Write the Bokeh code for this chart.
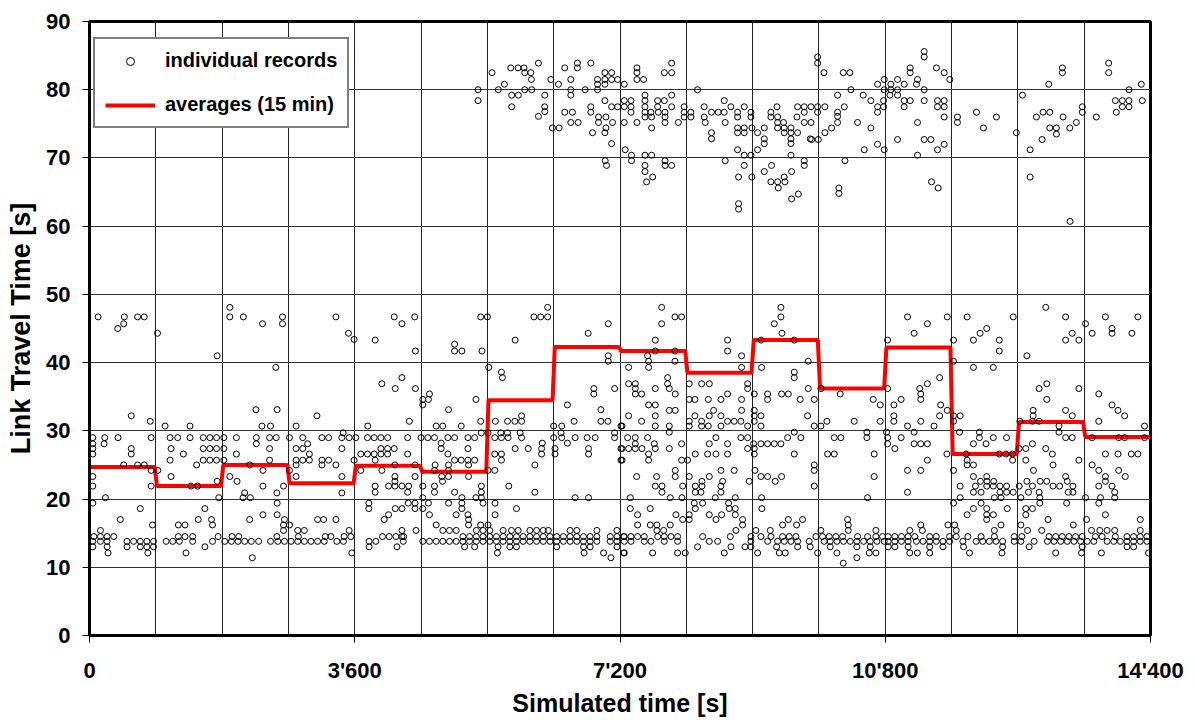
from bokeh.plotting import figure
from bokeh.models import Range1d, FixedTicker, Legend, LegendItem, ColumnDataSource
from bokeh.embed import file_html
from bokeh.resources import INLINE

FONT = "Liberation Sans"

# 15-minute averages of link travel time [s], one per interval
interval_s = 900
avg_travel_time = [24.7, 21.9, 25.0, 22.3, 24.9, 24.0, 34.5, 42.3,
                   41.7, 38.5, 43.3, 36.2, 42.2, 26.6, 31.3, 29.1]

x_ticks = [0, 3600, 7200, 10800, 14400]
x_tick_labels = ["0", "3'600", "7'200", "10'800", "14'400"]
y_ticks = [0, 10, 20, 30, 40, 50, 60, 70, 80, 90]

# individual records, grouped as (travel time [s], [simulated times [s]])
records_0_3600 = [
    (48.1, [1904]),
    (46.7, [117, 473, 653, 743, 1904, 2088, 2619, 3344]),
    (45.7, [464, 2349, 2619]),
    (45.0, [383]),
    (44.3, [923, 3515]),
    (43.4, [3591]),
    (41.0, [1733]),
    (39.3, [2529]),
    (33.1, [2259, 2547]),
    (32.2, [567, 3087]),
    (31.4, [824]),
    (30.7, [1026, 1364, 2340, 2457, 2804]),
    (29.7, [3443]),
    (29.0, [45, 207, 387, 837, 1094, 1197, 1364, 1544, 1634, 1724, 1823, 1994, 2264,
            2444, 2534, 2714, 2894, 3155, 3245, 3425, 3524]),
    (28.1, [45, 198, 2264, 2961]),
    (27.4, [45, 567, 1107, 1544, 1634, 1724, 1823, 2444, 2804, 2894, 3425]),
    (26.6, [45, 567, 1274, 1994, 2984]),
    (25.7, [1094, 1544, 1634, 1724, 1823, 2444, 2804, 2894, 2984, 3155, 3245, 3591]),
    (25.0, [464, 653, 743, 1454, 2174, 2804, 3155, 3344]),
    (24.2, [837, 927, 2354, 2714]),
    (23.3, [45, 1107, 1904, 2804, 3425]),
    (22.6, [1733, 2003]),
    (21.9, [45, 837, 1377, 1467, 2354, 2633]),
    (20.9, [2106, 2543, 3425]),
    (20.2, [216, 1755, 2084, 2183]),
    (19.4, [45, 2547]),
    (18.6, [689, 1566]),
    (17.7, [2354, 2547]),
    (17.0, [419, 1476, 1656, 2174, 2646, 3096, 3177, 3344]),
    (16.2, [855, 1206, 1296, 1670, 2633, 2714]),
    (15.4, [149, 2633, 2826, 2916, 3524]),
    (14.5, [59, 149, 239, 329, 1206, 1296, 1400, 1746, 1935, 2025, 2543, 2835, 3200,
            3276, 3456, 3546]),
    (13.8, [45, 149, 239, 509, 599, 689, 779, 869, 1040, 1130, 1220, 1400, 1670, 1836,
            1926, 2016, 2106, 2196, 2295, 2457, 2556, 2646, 2736, 2826, 2916, 3006,
            3096, 3186, 3357, 3447]),
    (13.0, [45, 239, 509, 689, 779, 869, 1566]),
    (12.1, [252, 792, 1310, 3560]),
    (11.4, [2210]),
]

records_3600_7200 = [
    (48.1, [6218]),
    (46.7, [4136, 4414, 5309, 5400, 6032, 6123, 6218]),
    (45.7, [4241, 7041]),
    (44.3, [6768]),
    (43.3, [3877, 5777]),
    (42.7, [4955]),
    (41.7, [4423, 4955, 5054, 5327]),
    (41.0, [7041]),
    (40.2, [7041]),
    (39.3, [5418]),
    (38.6, [5591]),
    (37.8, [4241, 5604]),
    (36.9, [3968]),
    (36.2, [4150, 4423, 6845, 7127]),
    (35.4, [4614, 6845]),
    (34.6, [4523, 4600, 5245]),
    (33.8, [4523, 6486]),
    (33.1, [4873, 6941]),
    (32.2, [5864]),
    (31.4, [4341, 5309, 5509, 5673, 5773, 5864, 6577, 6941, 7036]),
    (30.7, [3777, 4705, 4795, 5045, 6300, 6409, 7213]),
    (29.7, [5318, 5409, 5582, 5673, 5845, 6400, 7127]),
    (29.0, [3614, 3773, 3864, 3955, 4046, 4318, 4500, 4591, 4682, 4864, 4955, 5136,
            5227, 5500, 5591, 5682, 5864, 6300, 6409, 6591, 6754, 6863, 7127]),
    (28.2, [4773, 6145, 6486]),
    (27.4, [3955, 4046, 4136, 4773, 5136, 5777, 5954, 6136, 6318, 6773, 7213]),
    (26.6, [3682, 3773, 3864, 3955, 4046, 4318, 4864, 5500, 5591, 6136, 6318, 6773]),
    (25.7, [3877, 4955, 5045, 5136, 5227, 5591, 7213]),
    (25.0, [4145, 4418, 4691, 4873, 5145, 6045]),
    (24.2, [3682, 3968, 4682, 4873, 5409, 5500]),
    (23.3, [4145, 4418, 4782, 4873, 5145]),
    (22.6, [4145, 4791]),
    (21.9, [3877, 4059, 4145, 4241, 4332, 4523, 4682, 5318, 5691]),
    (21.0, [3877, 4318, 4682, 4955, 5318, 6045]),
    (20.2, [4523, 5054, 5245, 5318, 6591, 6773]),
    (19.4, [3791, 4327, 4418, 4600, 4873, 5054, 5341, 5504]),
    (18.6, [3791, 4150, 4241, 4418, 4523, 5054, 5795]),
    (17.7, [4059, 4614, 4977, 5136, 5504]),
    (17.0, [4000, 5145]),
    (16.2, [4705, 5145, 5309, 5409]),
    (15.4, [4241, 4432, 4795, 4886, 4977, 5250, 5341, 5432, 5614, 5727, 5818, 5977,
            6068, 6159, 6227, 6523, 6614, 6886, 7159]),
    (14.5, [3977, 4068, 4159, 4241, 4264, 5068, 5159, 5250, 5341, 5432, 5523, 5614,
            5705, 5795, 5886, 5977, 6068, 6159, 6250, 6341, 6432, 6523, 6614, 6705,
            6795, 6886, 7068, 7159, 7250]),
    (13.8, [3795, 3886, 4259, 4523, 4614, 4705, 4795, 4886, 4977, 5068, 5159, 5250,
            5341, 5432, 5523, 5614, 5705, 5795, 5886, 5977, 6068, 6159, 6250, 6341,
            6432, 6523, 6614, 6705, 6795, 6886, 7068, 7159]),
    (13.0, [3795, 4173, 5091, 5227, 5545, 5705, 5795, 6341, 6705, 6795, 7159]),
    (12.1, [5536, 6713, 6977, 7250]),
    (11.4, [7077]),
]

records_7200_10800 = [
    (48.1, [7765, 9384]),
    (46.7, [7946, 8036, 9384]),
    (45.7, [7765, 9294]),
    (44.3, [9398]),
    (43.3, [7679, 8660, 9113, 9565]),
    (41.7, [7679, 7946, 8660]),
    (41.0, [7575, 8850]),
    (40.2, [7588, 7946, 9755]),
    (39.3, [7317, 7588, 8850, 9122]),
    (38.6, [9565]),
    (37.8, [7846, 9565]),
    (36.9, [7317, 7408, 7846, 8140, 8308, 8412, 8932]),
    (36.2, [7408, 7679, 7869, 8932, 9755, 9927]),
    (35.4, [7408, 7493, 7950, 8660, 9022, 9203, 9393, 9484, 10189]),
    (34.6, [8140, 8217, 8398, 8570, 8850, 9203, 9646, 9836, 10637]),
    (33.8, [7588, 7679, 10732]),
    (33.0, [7869, 7950, 8470, 8850, 9022]),
    (32.2, [7317, 7679, 8217, 8412, 8570, 9022, 9113, 9746]),
    (31.4, [7493, 8140, 8308, 8660, 8750, 8841, 9022, 10008, 10379, 10732]),
    (30.7, [7227, 7679, 7869, 8140, 8308, 8398, 8570, 8932, 9113, 9836, 9927]),
    (29.8, [7869, 9565, 10551, 10818]),
    (29.0, [7303, 7408, 7575, 8502, 8841, 8932, 9475, 9655, 10108, 10198, 10551]),
    (28.1, [7408, 7665, 8036, 8412, 8660, 9013, 9113, 9203, 9294, 9384]),
    (27.4, [7227, 7317, 7408, 7498, 7679, 7869, 8932, 9022]),
    (26.6, [7588, 8222, 8389, 8502, 8660, 9022, 9565, 10017, 10108, 10650]),
    (25.7, [7227, 7588, 8036, 8118]),
    (25.0, [9836]),
    (24.2, [7950, 8570, 8750, 9031, 9836]),
    (23.3, [7426, 7697, 7950, 8140, 8412, 9113, 9203, 9393, 10650]),
    (22.6, [8312, 8593, 8954, 9307]),
    (21.9, [7679, 7770, 8050, 8222, 8312, 8570, 9836]),
    (21.0, [7770, 8222, 8299, 8570]),
    (20.2, [7340, 7882, 8041, 8493, 8765, 9122, 10560]),
    (19.4, [8208, 8321, 8674]),
    (18.6, [7340, 7611, 8222, 8683, 8765, 9126]),
    (17.7, [7439, 7959, 8140, 8412, 8579, 8765]),
    (17.0, [8050, 8140, 8502, 8864, 9484, 9678, 10289]),
    (16.2, [7439, 7611, 7701, 7882, 8864, 9407, 9597, 10298]),
    (15.4, [7701, 7792, 8773, 9045, 9240, 9927, 10298, 10673]),
    (14.5, [7258, 7349, 7439, 7530, 7711, 7801, 7892, 7982, 8321, 8697, 8977, 9113,
            9249, 9407, 9497, 9588, 9859, 9949, 10040, 10130, 10221, 10424, 10560,
            10673, 10763]),
    (13.8, [7258, 7349, 7530, 7620, 7801, 7982, 8412, 8525, 8977, 9203, 9339, 9430,
            9520, 9611, 9768, 9972, 10053, 10144, 10234, 10325, 10415, 10506, 10596,
            10687, 10786]),
    (13.0, [8253, 8706, 8896, 8977, 9325, 9611, 9782, 10053, 10415, 10596]),
    (12.1, [7258, 7643, 7982, 8086, 8615, 9068, 9362, 9443, 9882, 10144, 10583, 10673]),
    (11.4, [10415]),
    (10.6, [10230]),
]

records_10800_14400 = [
    (48.1, [12978]),
    (46.7, [11102, 11642, 11912, 12537, 13248, 13788, 14229]),
    (45.7, [11372, 13518]),
    (45.0, [12177, 13878]),
    (44.3, [11192, 12087, 13338, 13608, 13878, 14148]),
    (43.3, [10832, 11727, 11997, 12348, 13248, 13428]),
    (41.7, [12348]),
    (41.0, [12722]),
    (40.2, [11727]),
    (39.3, [11997, 12267]),
    (37.8, [11538]),
    (36.9, [11372, 12992]),
    (36.2, [10832, 11268, 12888, 13428]),
    (35.4, [11282, 13698]),
    (34.6, [11016, 11282, 12992]),
    (33.8, [10917, 11552, 13878]),
    (33.0, [11642, 12807, 13248, 13959]),
    (32.2, [10917, 11538, 11727, 11817, 12807, 13338, 14049]),
    (31.4, [10917, 11282, 11727, 12627, 12798, 12888, 13698]),
    (30.7, [11102, 11462, 13158, 14319]),
    (29.8, [11192, 11808, 12078, 13158]),
    (29.0, [10832, 11016, 12078, 12267, 12447, 13248, 13338, 13608, 13968, 14049, 14319]),
    (28.1, [10832, 11192, 11282, 11372, 11997, 12168, 12798]),
    (27.4, [10930, 12618, 12708, 12978]),
    (26.6, [11637, 11898, 12348, 12438, 12528, 13068, 13788, 13959, 14139, 14229]),
    (25.7, [11372, 11912, 12528, 12708, 13428]),
    (25.0, [11912, 11997, 13077, 13608]),
    (24.2, [11102, 11282, 11727, 12812, 13698, 13968]),
    (23.3, [11997, 12177, 13248, 13788, 14058]),
    (22.6, [12092, 12182, 12272, 12722, 12902, 12992, 13271, 13788]),
    (21.9, [11817, 12024, 12177, 12267, 12357, 12447, 12618, 12798, 13077, 13167, 13347,
            13698, 13878]),
    (21.0, [11102, 11997, 12101, 12357, 12447, 12537, 12744, 12888, 13284, 13347, 13914]),
    (20.2, [11817, 12281, 12371, 12641, 12897, 13518, 13721, 13914]),
    (19.4, [11727, 12101, 12897, 13262, 13698]),
    (18.6, [11997, 12177, 12456, 12708, 12798]),
    (17.7, [11912, 12177, 12267, 12708, 13788]),
    (17.0, [12177, 13010, 13532, 14261]),
    (16.2, [11282, 11651, 11741, 12371, 12641, 13352]),
    (15.4, [11133, 11304, 11763, 12281, 12731, 12924, 13599, 13712, 13811, 13914, 14261]),
    (14.5, [10840, 10930, 11020, 11110, 11200, 11403, 11493, 11673, 11763, 11921, 12101,
            12281, 12551, 12654, 13023, 13113, 13203, 13293, 13383, 13473, 13653, 13743,
            13923, 14081, 14171, 14261, 14351]),
    (13.8, [10840, 10930, 11020, 11110, 11223, 11313, 11403, 11493, 11583, 11673, 11853,
            12033, 12123, 12213, 12303, 12393, 12551, 12641, 12821, 13001, 13091, 13181,
            13271, 13361, 13451, 13541, 13631, 13811, 13901, 13991, 14081, 14171, 14261,
            14351]),
    (13.0, [10840, 10930, 11110, 11403, 11583, 11862, 12393, 12753, 13473, 14081, 14171]),
    (12.1, [11133, 11236, 11403, 11943, 12384, 13113, 13464, 13734, 14373]),
]

# records of the congested regime, (simulated time [s], travel time [s])
records_congested = [
    (5273, 80.0), (5273, 78.4), (5463, 82.5), (5549, 80.0), (5631, 80.8), (5717, 83.2),
    (5816, 83.2), (5898, 83.2), (5907, 82.5), (5989, 82.5), (5998, 81.5), (6093, 83.9),
    (5730, 79.2), (5821, 79.2), (5730, 77.5), (5907, 80.0), (6002, 80.0), (6179, 79.2),
    (6179, 77.5), (6179, 76.8), (6093, 76.1), (6261, 81.5), (6365, 80.8), (6450, 83.2),
    (6622, 83.9), (6622, 83.2), (6532, 81.5), (6532, 80.0), (6532, 79.2), (6727, 80.0),
    (6804, 83.9), (6895, 81.5), (6895, 80.8), (6895, 80.0), (6995, 80.8), (6995, 81.5),
    (6995, 82.5), (7086, 82.5), (7086, 81.5), (7168, 81.5), (7258, 80.8), (6450, 76.7),
    (6554, 76.7), (6283, 74.4), (6374, 74.4), (6532, 75.2), (6632, 75.2), (6804, 77.5),
    (6804, 76.7), (6827, 73.7), (6909, 76.0), (6909, 75.2), (7009, 76.0), (6995, 78.4),
    (7086, 77.5), (7009, 74.4), (6995, 73.7), (7099, 75.2), (7086, 72.1), (6999, 69.6),
    (7018, 68.9), (7258, 78.4), (7349, 78.4), (7258, 77.5), (7349, 77.5), (7349, 76.7),
    (7168, 77.5), (7258, 75.2), (7270, 71.2), (7356, 70.4), (7356, 69.6), (7430, 83.2),
    (7430, 82.5), (7430, 81.5), (7520, 81.5), (7539, 79.2), (7539, 78.4), (7539, 77.5),
    (7539, 76.7), (7539, 76.0), (7620, 76.7), (7629, 76.0), (7629, 74.4), (7711, 78.4),
    (7802, 78.4), (7711, 77.5), (7811, 76.7), (7811, 76.0), (7811, 75.2), (7720, 76.7),
    (7901, 79.2), (7901, 77.5), (7992, 75.2), (7430, 75.2), (7539, 70.4), (7629, 70.4),
    (7539, 68.9), (7539, 68.0), (7561, 66.5), (7643, 67.2), (7811, 69.6), (7901, 68.9),
    (7811, 68.9), (7802, 82.5), (7901, 82.5), (7901, 83.9), (8071, 77.5), (8071, 76.7),
    (8162, 76.7), (8162, 76.0), (8071, 76.0), (8252, 80.0), (8343, 77.5), (8343, 76.0),
    (8356, 75.2), (8442, 76.7), (8533, 76.7), (8614, 78.4), (8614, 76.7), (8705, 77.5),
    (8442, 73.7), (8442, 72.8), (8628, 75.2), (8628, 69.6), (8796, 76.7), (8796, 76.0),
    (8796, 74.4), (8796, 73.7), (8886, 74.4), (8886, 73.7), (8886, 77.5), (8977, 76.7),
    (8977, 76.0), (8796, 71.2), (8886, 70.4), (8977, 70.4), (8886, 68.9), (8990, 67.2),
    (8809, 67.2), (8809, 63.3), (8809, 62.5), (8990, 74.4), (9067, 73.7), (9158, 74.4),
    (9158, 72.8), (9158, 72.1), (9067, 71.2), (9158, 68.0), (9257, 68.9), (9248, 76.7),
    (9248, 76.0), (9330, 77.5), (9339, 76.0), (9339, 75.2), (9339, 74.4), (9420, 75.2),
    (9429, 74.4), (9429, 73.7), (9520, 74.4), (9520, 73.7), (9520, 72.8), (9520, 72.1),
    (9610, 73.7), (9520, 70.4), (9248, 66.5), (9339, 66.5), (9348, 65.6), (9429, 67.2),
    (9438, 66.5), (9529, 68.0), (9529, 64.0), (9620, 64.7), (9610, 77.5), (9701, 77.5),
    (9601, 76.0), (9701, 76.7), (9701, 75.2), (9782, 72.8), (9701, 69.6), (9701, 68.9),
    (9792, 77.5), (9882, 77.5), (9882, 76.7), (9981, 77.5), (9792, 75.2), (9801, 72.7),
    (9891, 72.7), (9882, 84.8), (9882, 83.9), (9968, 82.5), (10230, 82.5), (10320, 82.5),
    (10334, 80.0), (10153, 79.2), (10244, 77.5), (10153, 76.7), (10153, 76.1),
    (10153, 75.2), (10072, 74.4), (9981, 73.7), (10253, 69.6), (10171, 65.6),
    (10171, 64.8), (10424, 75.2), (10605, 74.4), (10515, 71.2), (10501, 79.2),
    (10605, 78.4), (10696, 77.5), (10696, 76.7), (10777, 77.5), (10777, 78.4),
    (10696, 80.8), (10786, 81.5), (10786, 80.0), (10876, 80.8), (10876, 80.0),
    (10863, 79.2), (10967, 81.5), (10967, 80.0), (10967, 79.2), (11057, 80.8),
    (11057, 77.5), (11057, 78.4), (11138, 78.4), (11138, 83.2), (11138, 82.5),
    (10696, 72.0), (10786, 71.2), (10967, 72.7), (11224, 80.8), (11238, 81.5),
    (11328, 85.6), (11328, 84.8), (11328, 80.0), (11328, 78.4), (11238, 75.2),
    (11238, 70.4), (11328, 72.7), (11419, 72.7), (11495, 83.2), (11600, 82.5),
    (11676, 81.5), (11509, 78.4), (11600, 78.4), (11509, 77.5), (11600, 77.5),
    (11600, 76.0), (11600, 72.0), (11509, 71.2), (11428, 66.5), (11518, 65.6),
    (11780, 76.0), (11780, 75.2), (12038, 76.7), (12133, 74.4), (12309, 76.0),
    (12580, 73.7), (12662, 79.2), (12766, 71.2), (12766, 67.2), (12852, 76.0),
    (12942, 76.7), (13033, 76.7), (13019, 80.8), (12929, 72.7), (13033, 74.4),
    (13123, 74.4), (13123, 73.5), (13213, 76.0), (13204, 83.2), (13204, 82.5),
    (13304, 74.4), (13394, 75.2), (13475, 77.5), (13475, 76.7), (13665, 76.0),
    (13832, 83.9), (13832, 82.5), (13923, 78.4), (13936, 76.7), (14018, 78.4),
    (14018, 77.5), (14108, 78.4), (14108, 77.5), (14108, 80.0), (14275, 80.8),
    (14289, 78.4), (13308, 60.7),
]

# flatten all record groups into one scatter source
rec_t, rec_tt = [], []
for block in (records_0_3600, records_3600_7200, records_7200_10800, records_10800_14400):
    for tt, times in block:
        rec_t.extend(times)
        rec_tt.extend([tt] * len(times))
for t, tt in records_congested:
    rec_t.append(t)
    rec_tt.append(tt)

# step line of the 15-minute averages, with a short ramp between intervals
n = len(avg_travel_time)
ramp = 15
avg_x, avg_y = [], []
for i, v in enumerate(avg_travel_time):
    start = i * interval_s
    end = start + interval_s
    avg_x += [start + (ramp if i > 0 else 0), end - (ramp if i < n - 1 else 0)]
    avg_y += [v, v]

p = figure(
    frame_width=1061, frame_height=614,
    min_border_left=89, min_border_right=46, min_border_top=21, min_border_bottom=84,
    x_range=Range1d(0, 14400), y_range=Range1d(0, 90),
    output_backend="svg", toolbar_location=None,
    background_fill_color="white", border_fill_color="white",
)

p.outline_line_color = "black"
p.outline_line_width = 3

# axes
for ax in (p.xaxis[0], p.yaxis[0]):
    ax.axis_line_color = "black"
    ax.axis_line_width = 3
    ax.major_tick_out = 7
    ax.major_tick_in = 0
    ax.major_tick_line_color = "black"
    ax.major_tick_line_width = 1
    ax.minor_tick_line_color = None
    ax.major_label_text_font = FONT
    ax.major_label_text_font_style = "bold"
    ax.major_label_text_font_size = "22px"
    ax.major_label_text_color = "black"
    ax.axis_label_text_font = FONT
    ax.axis_label_text_font_style = "bold"
    ax.axis_label_text_color = "black"

p.xaxis.ticker = FixedTicker(ticks=x_ticks)
p.xaxis.major_label_overrides = dict(zip(x_ticks, x_tick_labels))
p.xaxis.major_label_standoff = 15
p.xaxis.axis_label = "Simulated time [s]"
p.xaxis.axis_label_text_font_size = "25px"
p.xaxis.axis_label_standoff = 3

p.yaxis.ticker = FixedTicker(ticks=y_ticks)
p.yaxis.major_label_standoff = 12
p.yaxis.axis_label = "Link Travel Time [s]"
p.yaxis.axis_label_text_font_size = "27px"
p.yaxis.axis_label_standoff = 7

# grid: vertical line every 15 minutes, horizontal every 10 s
p.xgrid.ticker = FixedTicker(ticks=list(range(interval_s, 14400, interval_s)))
p.xgrid.grid_line_color = "#222222"
p.xgrid.grid_line_width = 1
p.ygrid.ticker = FixedTicker(ticks=y_ticks[1:-1])
p.ygrid.grid_line_color = "#333333"
p.ygrid.grid_line_width = 1

avg_src = ColumnDataSource(dict(x=avg_x, y=avg_y))
avg_line = p.line("x", "y", source=avg_src, line_color="#ff0000", line_width=4)

rec_src = ColumnDataSource(dict(t=rec_t, tt=rec_tt))
rec_glyph = p.scatter("t", "tt", source=rec_src, marker="circle", size=6,
                      fill_alpha=0, line_color="black", line_width=1)

legend = Legend(
    items=[LegendItem(label="individual records", renderers=[rec_glyph]),
           LegendItem(label="averages (15 min)", renderers=[avg_line])],
    location=(4, 507), margin=0, padding=10, spacing=21,
    glyph_width=50, glyph_height=20, label_height=20, label_standoff=10,
    label_text_font=FONT, label_text_font_style="bold", label_text_font_size="20px",
    label_text_color="black",
    border_line_color="black", border_line_width=2,
    background_fill_color="white", background_fill_alpha=1,
)
p.add_layout(legend)

open("out.html", "w").write(file_html(p, INLINE))
